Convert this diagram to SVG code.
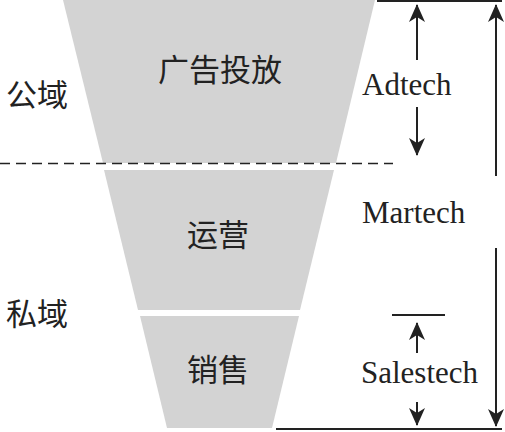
<svg xmlns="http://www.w3.org/2000/svg" width="505" height="432" viewBox="0 0 505 432">
<style>
.seg{fill:#d3d3d3;stroke:none}
.cjk{font-family:"Noto Sans CJK SC","Noto Sans CJK JP",sans-serif;font-size:31px;fill:#222}
.lat{font-family:"Liberation Serif","Times New Roman",serif;font-size:31px;fill:#222}
.ln{stroke:#222;stroke-width:2;fill:none}
.arr{stroke:#222;stroke-width:2;fill:none;marker-end:url(#ah)}
</style>
<defs>
<marker id="ah" viewBox="0 0 18 16" refX="17" refY="8" markerWidth="18" markerHeight="16" markerUnits="userSpaceOnUse" orient="auto">
<path d="M0,0 L18,8 L0,16 L5,8 Z" fill="#222"/>
</marker>
</defs>
<rect width="505" height="432" fill="#fff"/>
<g id="node-ad">
<polygon class="seg" points="63,0 375,0 336,163 103,163"/>
<text class="cjk" x="220" y="81" text-anchor="middle">广告投放</text>
</g>
<g id="node-ops">
<polygon class="seg" points="104,170 334,170 300,310 138,310"/>
<text class="cjk" x="218" y="246" text-anchor="middle">运营</text>
</g>
<g id="node-sales">
<polygon class="seg" points="140,316 299,316 272,428 167,428"/>
<text class="cjk" x="218" y="381" text-anchor="middle">销售</text>
</g>
<g id="label-public"><text class="cjk" x="6" y="106">公域</text></g>
<g id="label-private"><text class="cjk" x="6" y="325">私域</text></g>
<g id="label-adtech"><text class="lat" x="362" y="95">Adtech</text></g>
<g id="label-martech"><text class="lat" x="362" y="223">Martech</text></g>
<g id="label-salestech"><text class="lat" x="361" y="383">Salestech</text></g>
<g id="connectors">
<line x1="0" y1="163.5" x2="393" y2="163.5" stroke="#222" stroke-width="1.6" stroke-dasharray="10,6"/>
<line class="ln" x1="377" y1="1" x2="502" y2="1"/>
<line class="ln" x1="276" y1="429" x2="502" y2="429"/>
<line class="ln" x1="392" y1="315" x2="445" y2="315"/>
<line class="arr" x1="417" y1="60" x2="417" y2="5"/>
<line class="arr" x1="417" y1="107" x2="417" y2="155"/>
<line class="arr" x1="496" y1="176" x2="496" y2="5"/>
<line class="arr" x1="496" y1="248" x2="496" y2="426"/>
<line class="arr" x1="417" y1="353" x2="417" y2="323"/>
<line class="arr" x1="417" y1="402" x2="417" y2="425"/>
</g>
</svg>
